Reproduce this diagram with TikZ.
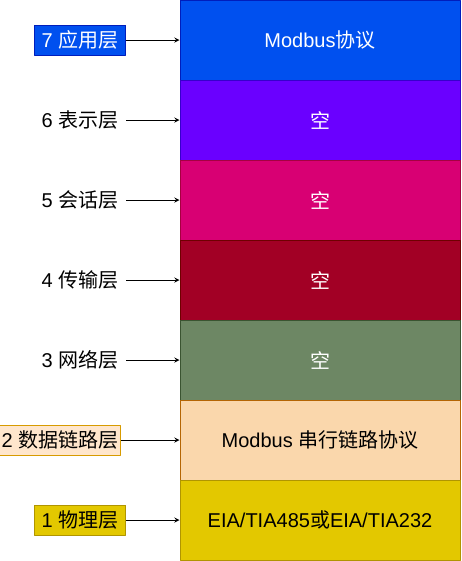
\documentclass[tikz,border=0pt]{standalone}
\usepackage{fontspec}
\setmainfont{Liberation Sans}
\newfontfamily\cjk{Noto Sans CJK SC}
\usetikzlibrary{positioning}
\definecolor{apfill}{HTML}{0050EF}\definecolor{apline}{HTML}{001DBC}
\definecolor{prfill}{HTML}{6A00FF}\definecolor{prline}{HTML}{3700CC}
\definecolor{sefill}{HTML}{D80073}\definecolor{seline}{HTML}{A50040}
\definecolor{trfill}{HTML}{A20025}\definecolor{trline}{HTML}{6F0000}
\definecolor{nwfill}{HTML}{6D8764}\definecolor{nwline}{HTML}{3A5431}
\definecolor{dlfill}{HTML}{FAD7AC}\definecolor{dlline}{HTML}{B46504}
\definecolor{phfill}{HTML}{E3C800}\definecolor{phline}{HTML}{B09500}
\definecolor{tagfill}{HTML}{FFE6CC}\definecolor{tagline}{HTML}{D79B00}
\begin{document}
\begin{tikzpicture}[>=stealth,line join=round,x=0.75pt,y=-0.75pt,font=\fontsize{15}{18}\selectfont,
    layer/.style={draw,line width=0.75pt,minimum width=210pt,minimum height=60pt,inner sep=0pt},
    tag/.style={line width=0.75pt,minimum width=68.25pt,minimum height=22.5pt,inner sep=0pt,anchor=east}]
    \useasboundingbox (0,0) rectangle (461,561);
    % layer stack
    \foreach \name/\fc/\dc/\tc/\txt [count=\i] in {ap/apfill/apline/white/{Modbus{\cjk 协议}},
        pr/prfill/prline/white/{\cjk 空},se/sefill/seline/white/{\cjk 空},
        tr/trfill/trline/white/{\cjk 空},nw/nwfill/nwline/white/{\cjk 空},
        dl/dlfill/dlline/black/{Modbus {\cjk 串行链路协议}},
        ph/phfill/phline/black/{EIA/TIA485{\cjk 或}EIA/TIA232}}
    \node[layer,fill=\fc,draw=\dc,text=\tc] (\name) at (320,{\i*80-40}) {\txt};
    % layer names
    \node[tag,draw=apline,fill=apfill,text=white] (tap) at (126,40) {7 {\cjk 应用层}};
    \node[tag] (tpr) at (126,120) {6 {\cjk 表示层}};
    \node[tag] (tse) at (126,200) {5 {\cjk 会话层}};
    \node[tag] (ttr) at (126,280) {4 {\cjk 传输层}};
    \node[tag] (tnw) at (126,360) {3 {\cjk 网络层}};
    \node[tag,draw=tagline,fill=tagfill,minimum width=90.75pt] (tdl) at (121,440) {2 {\cjk 数据链路层}};
    \node[tag,draw=phline,fill=phfill] (tph) at (126,520) {1 {\cjk 物理层}};
    \foreach \n in {ap,pr,se,tr,nw,dl,ph}
    \draw[->,line width=0.75pt] (t\n) -- (\n);
\end{tikzpicture}
\end{document}
